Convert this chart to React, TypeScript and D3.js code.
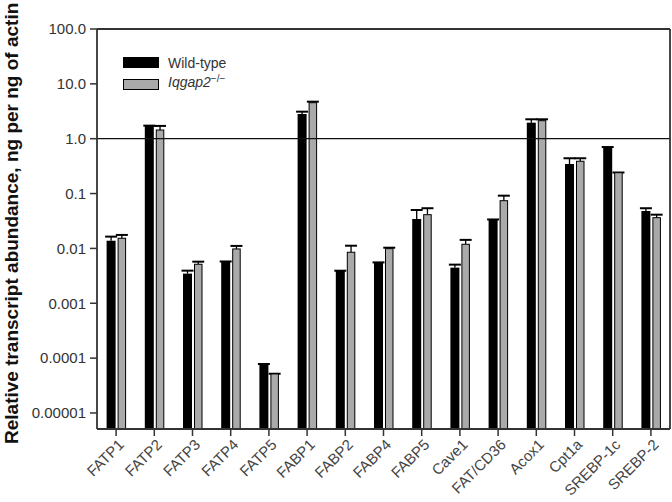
import React from "react";
import * as d3 from "d3";

const categories = ["FATP1", "FATP2", "FATP3", "FATP4", "FATP5", "FABP1", "FABP2", "FABP4", "FABP5", "Cave1", "FAT/CD36", "Acox1", "Cpt1a", "SREBP-1c", "SREBP-2"];
const wildType = [0.0138, 1.71, 0.00347, 0.00573, 0.0000773, 2.82, 0.00388, 0.0055, 0.0344, 0.00446, 0.0334, 1.96, 0.346, 0.698, 0.0481];
const wildTypeUpper = [0.0164, 1.73, 0.00393, 0.00578, 0.000078, 3.11, 0.00392, 0.00556, 0.0502, 0.00506, 0.0337, 2.26, 0.44, 0.705, 0.054];
const knockout = [0.0153, 1.44, 0.00514, 0.00977, 0.0000514, 4.53, 0.00851, 0.00989, 0.0412, 0.0119, 0.0741, 2.13, 0.388, 0.24, 0.0363];
const knockoutUpper = [0.0176, 1.71, 0.00573, 0.0111, 0.0000519, 4.73, 0.0112, 0.0103, 0.054, 0.0143, 0.0915, 2.26, 0.44, 0.242, 0.0412];
const yTicks = [100, 10, 1, 0.1, 0.01, 0.001, 0.0001, 0.00001];
const yTickLabels = ["100.0", "10.0", "1.0", "0.1", "0.01", "0.001", "0.0001", "0.00001"];

export default function App() {
  const W = 672, H = 502;
  const left = 97, right = 670, top = 29, bottom = 429;
  const x = d3.scaleBand<string>().domain(categories).range([left, right]).padding(0);
  const y = d3.scaleLog().domain([5.1e-6, 100]).range([bottom, top]);
  const bw = x.bandwidth();
  const font = "'Liberation Sans', Arial, sans-serif";
  const capHalf = 6;

  return (
    <svg width={W} height={H} style={{ position: "absolute", left: 0, top: 0, background: "#fff" }} fontFamily={font}>
      <rect x={0} y={0} width={W} height={H} fill="#fff" />
      {/* bars */}
      {categories.map((c, i) => {
        const cx = (x(c) as number) + bw / 2;
        const bx0 = cx - 9.5, bx1 = cx - 0.5;
        const gx0 = cx + 2, gx1 = cx + 9.5;
        const bt = y(wildType[i]);
        const bu = y(wildTypeUpper[i]);
        const gt = y(knockout[i]);
        const gu = y(knockoutUpper[i]);
        const bm = (bx0 + bx1) / 2, gm = (gx0 + gx1) / 2;
        return (
          <g key={c}>
            <line x1={bm} x2={bm} y1={bt} y2={bu} stroke="#000" strokeWidth={1.3} />
            <line x1={bm - capHalf} x2={bm + capHalf} y1={bu} y2={bu} stroke="#000" strokeWidth={2} />
            <rect x={bx0} y={bt} width={bx1 - bx0} height={bottom - bt} fill="#000" />
            <line x1={gm} x2={gm} y1={gt} y2={gu} stroke="#000" strokeWidth={1.3} />
            <line x1={gm - capHalf} x2={gm + capHalf} y1={gu} y2={gu} stroke="#000" strokeWidth={2} />
            <rect x={gx0} y={gt} width={gx1 - gx0} height={bottom - gt} fill="#aaaaaa" stroke="#000" strokeWidth={1} />
          </g>
        );
      })}
      {/* reference line at 1.0 */}
      <line x1={left} x2={right} y1={y(1)} y2={y(1)} stroke="#111" strokeWidth={1.3} />
      {/* frame */}
      <line x1={left} x2={right} y1={top} y2={top} stroke="#333" strokeWidth={1.8} />
      <line x1={right} x2={right} y1={top} y2={bottom} stroke="#333" strokeWidth={1.8} />
      <line x1={left} x2={left} y1={top} y2={bottom} stroke="#333" strokeWidth={1.8} />
      <line x1={left} x2={right} y1={bottom} y2={bottom} stroke="#333" strokeWidth={1.8} />
      {/* y ticks */}
      {yTicks.map((t, i) => (
        <g key={t}>
          <line x1={left - 7} x2={left} y1={y(t)} y2={y(t)} stroke="#333" strokeWidth={1.5} />
          <text x={left - 11} y={y(t)} dy="0.35em" textAnchor="end" fontSize={15} fill="#333">{yTickLabels[i]}</text>
        </g>
      ))}
      {/* x ticks */}
      {categories.map((c) => {
        const cx = (x(c) as number) + bw / 2;
        return (
          <g key={c}>
            <line x1={cx} x2={cx} y1={bottom} y2={bottom + 7} stroke="#333" strokeWidth={1.5} />
            <text transform={`translate(${cx + 5},${bottom + 13}) rotate(-45)`} textAnchor="end" dy="0.35em" fontSize={15} fill="#444">{c}</text>
          </g>
        );
      })}
      {/* y axis title */}
      <text transform={`translate(18,444) rotate(-90)`} textAnchor="start" fontSize={19} fontWeight="bold" fill="#111">Relative transcript abundance, ng per ng of actin</text>
      {/* legend */}
      <rect x={123} y={57} width={36} height={11} fill="#000" />
      <text x={168} y={68} fontSize={14} fill="#333">Wild-type</text>
      <rect x={123.5} y={79.5} width={35} height={10} fill="#aaaaaa" stroke="#000" strokeWidth={1} />
      <text x={168} y={87} fontSize={14} fill="#333">
        <tspan fontStyle="italic">Iqgap2</tspan>
        <tspan dy={-5} fontSize={10}>−/−</tspan>
      </text>
    </svg>
  );
}
